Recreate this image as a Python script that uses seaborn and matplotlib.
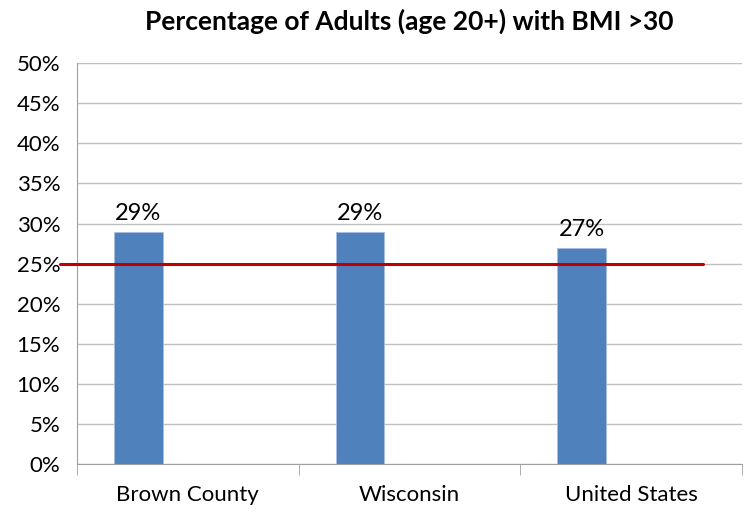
import matplotlib
matplotlib.use('Agg')
import matplotlib.pyplot as plt
import seaborn as sns
import pandas as pd
from matplotlib.ticker import PercentFormatter, FixedLocator

regions = ['Brown County', 'Wisconsin', 'United States']
pct_bmi30 = [29, 29, 27]
target = 25
yticks = list(range(0, 51, 5))

df = pd.DataFrame({'Region': regions, 'Pct': pct_bmi30})

sns.set_style('white')
plt.rcParams['font.family'] = ['Lato', 'DejaVu Sans']
plt.rcParams['text.color'] = 'black'
plt.rcParams['xtick.labelcolor'] = 'black'
plt.rcParams['ytick.labelcolor'] = 'black'

fig = plt.figure(figsize=(7.51, 5.14), dpi=100)
ax = fig.add_axes([0.1025, 0.0973, 0.8855, 0.7797])

sns.barplot(data=df, x='Region', y='Pct', color='#4F81BD', width=0.22,
            saturation=1, ax=ax, zorder=2)

# bars sit left of the category centre, like the original Excel chart
for p in ax.patches:
    p.set_x(p.get_x() - 0.223)
    p.set_edgecolor('#a8c0e0')
    p.set_linewidth(0.6)
    ax.text(p.get_x() + p.get_width() / 2, p.get_height() + 1.0,
            f'{p.get_height():.0f}%', ha='center', va='bottom', fontsize=17)

ax.plot([-0.577, 2.324], [target, target], color='#C00000', lw=2.2,
        clip_on=False, zorder=3)

ax.set_xlim(-0.5, 2.5)
ax.set_ylim(0, 50)
ax.set_yticks(yticks)
ax.yaxis.set_major_formatter(PercentFormatter(decimals=0))
ax.grid(axis='y', color='#c0c0c0', lw=1, zorder=0)
ax.set_axisbelow(True)
ax.set_xlabel('')
ax.set_ylabel('')

for side in ['top', 'right']:
    ax.spines[side].set_visible(False)
for side in ['left', 'bottom']:
    ax.spines[side].set_color('#a0a0a0')

ax.tick_params(axis='y', which='major', length=7, color='#a0a0a0', labelsize=16, pad=5)
ax.tick_params(axis='x', which='major', length=0, labelsize=16, pad=15)
ax.xaxis.set_minor_locator(FixedLocator([-0.5, 0.5, 1.5, 2.5]))
ax.tick_params(axis='x', which='minor', length=8, color='#a0a0a0', bottom=True)

ax.set_title('Percentage of Adults (age 20+) with BMI >30', fontsize=19,
             fontweight='bold', pad=24)

plt.savefig('out.png', dpi=100)
